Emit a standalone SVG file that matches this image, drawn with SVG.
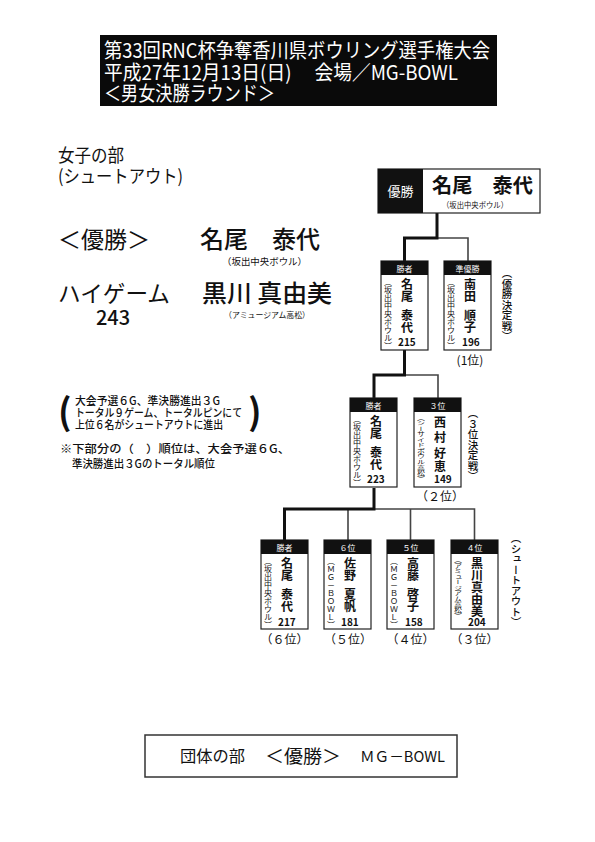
<svg xmlns="http://www.w3.org/2000/svg" width="595" height="842" viewBox="0 0 595 842">
<style>
text{font-family:"Noto Sans CJK JP","Noto Sans",sans-serif;fill:#111}
.w{fill:#fff}
.hd{font-size:20px;fill:#fff}
.box{fill:#fff;stroke:#222;stroke-width:1.2}
.band{fill:#111}
.bt{font-size:8px;fill:#fff;text-anchor:middle}
.v{writing-mode:vertical-rl;text-orientation:upright}
.aff{font-size:8px}
.nm{font-size:12px;font-weight:700}
.sc{font-size:10px;font-weight:700}
.rk{font-size:12px;text-anchor:middle}
.side{font-size:10.5px;font-weight:500}
.thick{fill:none;stroke:#111;stroke-width:3}
.thin{fill:none;stroke:#444;stroke-width:1.6}
</style>
<rect x="0" y="0" width="595" height="842" fill="#fff"/>
<g id="header">
<rect x="100" y="35" width="397" height="71" fill="#0a0a0a"/>
<text class="hd" x="104" y="58" textLength="386" lengthAdjust="spacingAndGlyphs">第33回RNC杯争奪香川県ボウリング選手権大会</text>
<text class="hd" x="104" y="80" textLength="354" lengthAdjust="spacingAndGlyphs">平成27年12月13日(日)　 会場／MG-BOWL</text>
<text class="hd" x="104" y="101" textLength="171" lengthAdjust="spacingAndGlyphs">＜男女決勝ラウンド＞</text>
</g>
<g id="summary">
<text x="58" y="162" font-size="18" textLength="66" lengthAdjust="spacingAndGlyphs">女子の部</text>
<text x="58" y="183" font-size="18" textLength="125" lengthAdjust="spacingAndGlyphs">(シュートアウト)</text>
<text x="58" y="248" font-size="23" textLength="92" lengthAdjust="spacingAndGlyphs">＜優勝＞</text>
<text x="200" y="248" font-size="24" font-weight="500" textLength="120" lengthAdjust="spacingAndGlyphs">名尾　泰代</text>
<text x="222" y="265" font-size="9.5" textLength="85" lengthAdjust="spacingAndGlyphs">（坂出中央ボウル）</text>
<text x="58" y="302" font-size="23" textLength="112" lengthAdjust="spacingAndGlyphs">ハイゲーム</text>
<text x="113" y="325" font-size="20" font-weight="500" text-anchor="middle">243</text>
<text x="202" y="302" font-size="24" font-weight="500" textLength="130" lengthAdjust="spacingAndGlyphs">黒川 真由美</text>
<text x="224" y="318" font-size="8" textLength="86" lengthAdjust="spacingAndGlyphs">（アミュージアム高松）</text>
</g>
<g id="notes">
<text x="58" y="425" font-size="36" font-weight="700">(</text>
<text x="75" y="405" font-size="11" font-weight="500" textLength="145" lengthAdjust="spacingAndGlyphs">大会予選６G、準決勝進出３G</text>
<text x="75" y="417" font-size="11" font-weight="500" textLength="167" lengthAdjust="spacingAndGlyphs">トータル９ゲーム、トータルピンにて</text>
<text x="75" y="429" font-size="11" font-weight="500" textLength="148" lengthAdjust="spacingAndGlyphs">上位６名がシュートアウトに進出</text>
<text x="248" y="425" font-size="36" font-weight="700">)</text>
<text x="60" y="453" font-size="11" font-weight="500" textLength="230" lengthAdjust="spacingAndGlyphs">※下部分の（　）順位は、大会予選６G、</text>
<text x="72" y="468" font-size="11" font-weight="500" textLength="143" lengthAdjust="spacingAndGlyphs">準決勝進出３Gのトータル順位</text>
</g>
<g id="connectors">
<path class="thin" d="M437,238 H468 V261"/>
<path class="thin" d="M404.5,375 H438 V398"/>
<path class="thin" d="M374,509 H474.5 V540 M348,509 V540 M410.5,509 V540"/>
<path class="thick" d="M437,213 V238 H404.5 V261"/>
<path class="thick" d="M404.5,350 V375 H374 V398"/>
<path class="thick" d="M374,488 V509 H284.5 V540"/>
</g>
<g id="champion">
<rect class="box" x="378" y="169" width="162" height="44"/>
<rect class="band" x="378" y="169" width="45" height="44"/>
<text x="400.5" y="196" font-size="13" class="w" text-anchor="middle">優勝</text>
<text x="432" y="193" font-size="20" font-weight="700" textLength="101" lengthAdjust="spacingAndGlyphs">名尾　泰代</text>
<text x="442" y="208" font-size="8" textLength="66" lengthAdjust="spacingAndGlyphs">（坂出中央ボウル）</text>
</g>
<g id="final-winner">
<rect class="box" x="381" y="261" width="47" height="89"/>
<rect class="band" x="381" y="261" width="47" height="14"/>
<text class="bt" x="404.5" y="272">勝者</text>
<text class="v aff" x="388" y="278">（坂出中央ボウル）</text>
<text class="v nm" x="407" y="278">名尾</text>
<text class="v nm" x="407" y="309">泰代</text>
<text class="sc" x="398" y="346">215</text>
</g>
<g id="final-runnerup">
<rect class="box" x="444" y="261" width="47" height="89"/>
<rect class="band" x="444" y="261" width="47" height="14"/>
<text class="bt" x="467.5" y="272">準優勝</text>
<text class="v aff" x="451" y="278">（坂出中央ボウル）</text>
<text class="v nm" x="470" y="278">南田</text>
<text class="v nm" x="470" y="309">順子</text>
<text class="sc" x="462" y="346">196</text>
<text class="rk" x="470" y="365">(1位)</text>
</g>
<text class="v side" x="507" y="268">（優勝決定戦）</text>
<g id="semi-winner">
<rect class="box" x="350" y="398" width="47" height="89"/>
<rect class="band" x="350" y="398" width="47" height="14"/>
<text class="bt" x="373.5" y="409">勝者</text>
<text class="v aff" x="357" y="415">（坂出中央ボウル）</text>
<text class="v nm" x="376" y="415">名尾</text>
<text class="v nm" x="376" y="446">泰代</text>
<text class="sc" x="367" y="483">223</text>
</g>
<g id="semi-third">
<rect class="box" x="414" y="398" width="47" height="89"/>
<rect class="band" x="414" y="398" width="47" height="14"/>
<text class="bt" x="437.5" y="409">３位</text>
<g transform="translate(421,415) scale(1,0.69)"><text class="v aff" x="0" y="0">（シーサイドボウル高松）</text></g>
<text class="v nm" x="440" y="416">西</text>
<text class="v nm" x="440" y="431">村</text>
<text class="v nm" x="440" y="447">好</text>
<text class="v nm" x="440" y="460">恵</text>
<text class="sc" x="434" y="483">149</text>
<text class="rk" x="440" y="501">（２位）</text>
</g>
<text class="v side" x="473" y="408">（３位決定戦）</text>
<g id="so-winner">
<rect class="box" x="261" y="540" width="47" height="89"/>
<rect class="band" x="261" y="540" width="47" height="14"/>
<text class="bt" x="284.5" y="551">勝者</text>
<text class="v aff" x="268" y="557">（坂出中央ボウル）</text>
<text class="v nm" x="287" y="557">名尾</text>
<text class="v nm" x="287" y="588">泰代</text>
<text class="sc" x="278" y="626">217</text>
<text class="rk" x="284.5" y="644">（６位）</text>
</g>
<g id="so-6">
<rect class="box" x="324" y="540" width="47" height="89"/>
<rect class="band" x="324" y="540" width="47" height="14"/>
<text class="bt" x="347.5" y="551">６位</text>
<text class="v aff" x="331" y="557">（ＭＧ－ＢＯＷＬ）</text>
<text class="v nm" x="350" y="557">佐野</text>
<text class="v nm" x="350" y="588">夏帆</text>
<text class="sc" x="341" y="626">181</text>
<text class="rk" x="348" y="644">（５位）</text>
</g>
<g id="so-5">
<rect class="box" x="387" y="540" width="47" height="89"/>
<rect class="band" x="387" y="540" width="47" height="14"/>
<text class="bt" x="410.5" y="551">５位</text>
<text class="v aff" x="394" y="557">（ＭＧ－ＢＯＷＬ）</text>
<text class="v nm" x="413" y="557">高藤</text>
<text class="v nm" x="413" y="588">啓子</text>
<text class="sc" x="405" y="626">158</text>
<text class="rk" x="410.5" y="644">（４位）</text>
</g>
<g id="so-4">
<rect class="box" x="451" y="540" width="47" height="89"/>
<rect class="band" x="451" y="540" width="47" height="14"/>
<text class="bt" x="474.5" y="551">４位</text>
<g transform="translate(458,557) scale(1,0.7)"><text class="v aff" x="0" y="0">（アミュージアム高松）</text></g>
<text class="v nm" x="477" y="557" font-size="11">黒川</text>
<text class="v nm" x="477" y="581" font-size="11">真由美</text>
<text class="sc" x="468" y="626">204</text>
<text class="rk" x="474.5" y="644">（３位）</text>
</g>
<text class="v side" x="516" y="533" font-size="10">（シュートアウト）</text>
<g id="team">
<rect x="145" y="735" width="312" height="42" fill="#fff" stroke="#333" stroke-width="1.5"/>
<text x="180" y="762" font-size="16" textLength="65" lengthAdjust="spacingAndGlyphs">団体の部</text>
<text x="265" y="763" font-size="18" textLength="76" lengthAdjust="spacingAndGlyphs">＜優勝＞</text>
<text x="360" y="762" font-size="15" textLength="85" lengthAdjust="spacingAndGlyphs">ＭＧ－BOWL</text>
</g>
</svg>
